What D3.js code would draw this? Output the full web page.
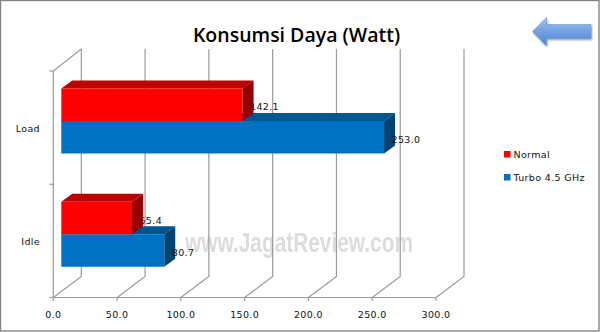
<!DOCTYPE html>
<html>
<head>
<meta charset="utf-8">
<script src="https://cdn.jsdelivr.net/npm/d3@7"></script>
<style>
  html, body { margin: 0; padding: 0; background: #fff; }
  svg { display: block; }
  text { font-family: "DejaVu Sans", sans-serif; font-size: 9.5px; letter-spacing: 0.35px; fill: #111; }
</style>
</head>
<body>
<div id="chart"></div>
<script>
var categories = ['Load', 'Idle'];
var seriesNames = ['Normal', 'Turbo 4.5 GHz'];
var normalValues = [142.1, 55.4];
var turboValues = [253.0, 80.7];
var xTicks = [0, 50, 100, 150, 200, 250, 300];

var svgWidth = 600;
var svgHeight = 332;

var svg = d3.select('#chart')
  .append('svg')
  .attr('width', svgWidth)
  .attr('height', svgHeight);

var defs = svg.append('defs');

var arrowGrad = defs.append('linearGradient')
  .attr('id', 'arrowGrad')
  .attr('x1', 0).attr('x2', 0).attr('y1', 0).attr('y2', 1);
arrowGrad.append('stop').attr('offset', '0%').attr('stop-color', '#a3c2ec');
arrowGrad.append('stop').attr('offset', '50%').attr('stop-color', '#74a0e0');
arrowGrad.append('stop').attr('offset', '100%').attr('stop-color', '#4a82d4');

var shadowBlur = defs.append('filter').attr('id', 'shadowBlur');
shadowBlur.append('feGaussianBlur').attr('stdDeviation', 1.2);

var wmBlur = defs.append('filter').attr('id', 'wmBlur');
wmBlur.append('feGaussianBlur').attr('stdDeviation', 0.7);

// chart frame
svg.append('rect')
  .attr('x', 0.5).attr('y', 0.5)
  .attr('width', 598.5).attr('height', 330.5)
  .attr('fill', '#fff')
  .attr('stroke', '#848484')
  .attr('stroke-width', 1.4);

// front plane of the 3D box, walls sit back by depthX / depthY
var depthX = 28;
var depthY = 21;
var barDepthX = 11;
var barDepthY = 8;
var barInset = 8;

var xScale = d3.scaleLinear().domain([0, 300]).range([53.3, 436]);
var yScale = d3.scaleBand().domain(categories).range([71, 297.5]);
var groupScale = d3.scaleBand().domain(seriesNames).range([17.5, 82.5]);

// watermark sits under the gridlines
svg.append('text')
  .attr('x', 185).attr('y', 252)
  .attr('textLength', 228)
  .attr('lengthAdjust', 'spacingAndGlyphs')
  .style('font-family', '"Liberation Sans", sans-serif')
  .style('font-size', '27px')
  .style('font-weight', 'bold')
  .style('letter-spacing', '0')
  .style('fill', '#dcdcdc')
  .attr('filter', 'url(#wmBlur)')
  .text('www.JagatReview.com');

var wallColor = '#9a9a9a';
var grid = svg.append('g').attr('fill', 'none').attr('stroke', wallColor).attr('stroke-width', 1.2);

// gridlines on back wall and floor
xTicks.forEach(function (t) {
  var x = xScale(t);
  grid.append('path')
    .attr('d', d3.line()([[x, 297.5], [x + depthX, 297.5 - depthY], [x + depthX, 71 - depthY - 1]]));
  grid.append('line')
    .attr('x1', x).attr('x2', x)
    .attr('y1', 297.5).attr('y2', 301);
});

// side wall outline and floor front edge
grid.append('path')
  .attr('d', d3.line()([[xScale(0), 297.5], [xScale(0), 71], [xScale(0) + depthX, 71 - depthY - 1]]));
grid.append('line')
  .attr('x1', xScale(0)).attr('x2', xScale(300))
  .attr('y1', 297.5).attr('y2', 297.5);

// category ticks
[71, yScale('Idle'), 297.5].forEach(function (y) {
  grid.append('line')
    .attr('x1', xScale(0) - 4).attr('x2', xScale(0))
    .attr('y1', y).attr('y2', y);
});

var seriesData = [
  { name: seriesNames[0], values: normalValues, front: '#ff0000', top: '#bf0000', side: '#970000' },
  { name: seriesNames[1], values: turboValues, front: '#0070c0', top: '#00548f', side: '#004472' }
];

function drawBar(g, s, value, cat) {
  var x0 = xScale(0) + barInset;
  var x1 = xScale(value) + barInset;
  var y0 = yScale(cat) + groupScale(s.name);
  var y1 = y0 + groupScale.bandwidth();

  g.append('path')
    .attr('fill', s.top)
    .attr('d', d3.line()([[x0, y0], [x0 + barDepthX, y0 - barDepthY], [x1 + barDepthX, y0 - barDepthY], [x1, y0]]) + 'Z');
  g.append('path')
    .attr('fill', s.side)
    .attr('d', d3.line()([[x1, y0], [x1 + barDepthX, y0 - barDepthY], [x1 + barDepthX, y1 - barDepthY], [x1, y1]]) + 'Z');
  g.append('rect')
    .attr('x', x0).attr('y', y0)
    .attr('width', x1 - x0).attr('height', y1 - y0)
    .attr('fill', s.front);
}

// turbo first in each group so the red bar's side overlaps it
var bars = svg.append('g');
categories.forEach(function (cat, i) {
  drawBar(bars, seriesData[1], seriesData[1].values[i], cat);
  drawBar(bars, seriesData[0], seriesData[0].values[i], cat);
});

// data labels
seriesData.forEach(function (s) {
  categories.forEach(function (cat, i) {
    svg.append('text')
      .attr('x', xScale(s.values[i]) + barInset + 7.5)
      .attr('y', yScale(cat) + groupScale(s.name) + groupScale.bandwidth() / 2 + 5.5)
      .text(s.values[i].toFixed(1));
  });
});

// category labels
categories.forEach(function (cat) {
  svg.append('text')
    .attr('x', 40)
    .attr('y', yScale(cat) + 60.5)
    .attr('text-anchor', 'end')
    .text(cat);
});

// x axis labels
xTicks.forEach(function (t) {
  svg.append('text')
    .attr('x', xScale(t))
    .attr('y', 318)
    .attr('text-anchor', 'middle')
    .text(t.toFixed(1));
});

// title
svg.append('text')
  .attr('x', 296.5)
  .attr('y', 41.5)
  .attr('text-anchor', 'middle')
  .style('font-family', '"Open Sans", sans-serif')
  .style('font-size', '19.5px')
  .style('font-weight', '600')
  .style('letter-spacing', '0')
  .style('fill', '#000')
  .text('Konsumsi Daya (Watt)');

// legend
var legendColors = d3.scaleOrdinal().domain(seriesNames).range(['#ff0000', '#0070c0']);
var legendY = d3.scalePoint().domain(seriesNames).range([154, 177]);
seriesNames.forEach(function (name) {
  svg.append('rect')
    .attr('x', 504).attr('y', legendY(name) - 3)
    .attr('width', 6.5).attr('height', 6.5)
    .attr('fill', legendColors(name));
  svg.append('text')
    .attr('x', 513.5).attr('y', legendY(name) + 4)
    .text(name);
});

// back arrow in the corner
var arrowPts = [[532.5, 31.5], [546.5, 17.5], [546.5, 24.5], [591, 24.5], [591, 38.5], [546.5, 38.5], [546.5, 46]];
svg.append('path')
  .attr('d', d3.line()(arrowPts) + 'Z')
  .attr('transform', 'translate(1,1.5)')
  .attr('fill', '#999')
  .attr('filter', 'url(#shadowBlur)');
svg.append('path')
  .attr('d', d3.line()(arrowPts) + 'Z')
  .attr('fill', 'url(#arrowGrad)')
  .attr('stroke', '#6f9bdc')
  .attr('stroke-width', 0.7);
</script>
</body>
</html>
